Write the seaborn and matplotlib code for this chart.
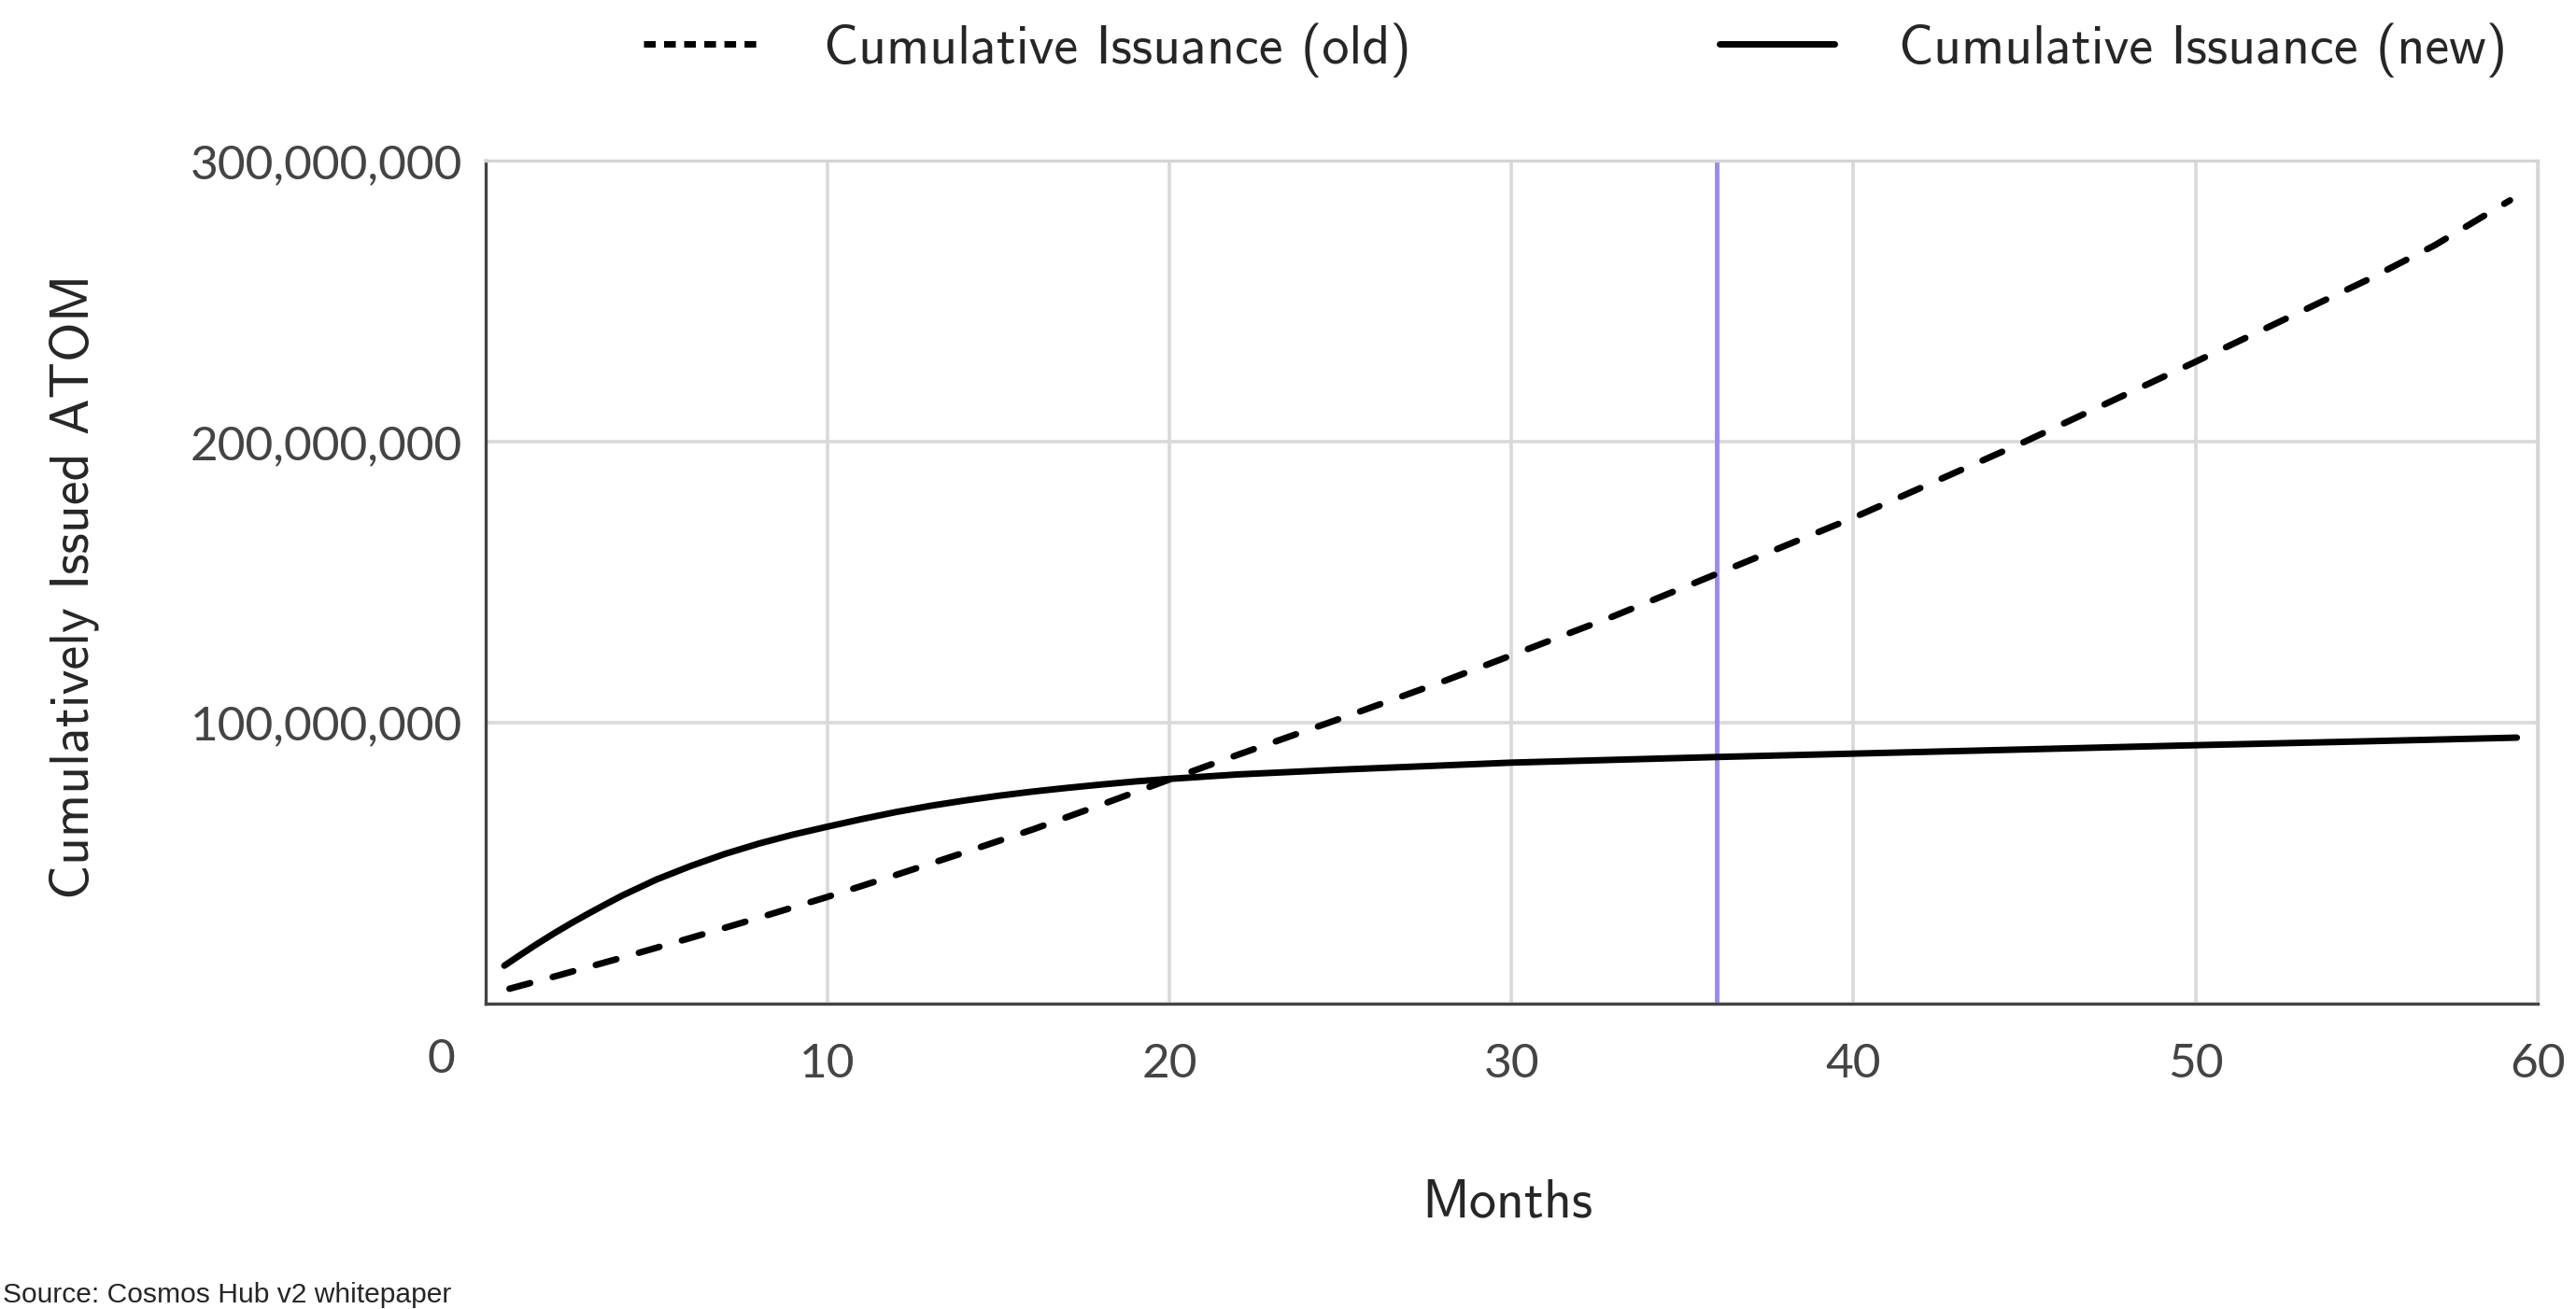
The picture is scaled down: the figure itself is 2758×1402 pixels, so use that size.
import matplotlib
matplotlib.use("Agg")
import matplotlib.pyplot as plt
from matplotlib.lines import Line2D
from matplotlib.ticker import FuncFormatter
import seaborn as sns

# months and cumulative issuance (ATOM)
months_old = [0.7, 2, 4, 6, 8, 10, 12, 14, 16, 18, 20, 22, 25, 28, 30, 33, 36,
              40, 45, 50, 55, 57, 59.2]
issued_old = [5.3e6, 9.6e6, 16.4e6, 23.4e6, 30.6e6, 38e6, 45.8e6, 53.8e6, 62e6,
              70.8e6, 79.8e6, 88.6e6, 101.5e6, 114.7e6, 124e6, 138e6, 153e6,
              173e6, 200e6, 228.5e6, 257.5e6, 270e6, 286e6]

months_new = [0.55, 1, 1.5, 2, 2.5, 3, 3.5, 4, 5, 6, 7, 8, 9, 10, 11, 12, 13, 14,
              15, 16, 17, 18, 19, 20, 22, 25, 30, 36, 40, 45, 50, 55, 59.4]
issued_new = [13.5e6, 17.2e6, 21.2e6, 25e6, 28.6e6, 32e6, 35.3e6, 38.5e6, 44.2e6,
              49e6, 53.3e6, 57e6, 60.2e6, 63e6, 65.7e6, 68.2e6, 70.4e6, 72.3e6,
              74e6, 75.5e6, 76.8e6, 78e6, 79.1e6, 80e6, 81.6e6, 83.3e6,
              85.8e6, 87.8e6, 89e6, 90.5e6, 92e6, 93.4e6, 94.7e6]

x_ticks = [0, 10, 20, 30, 40, 50, 60]
y_ticks = [0, 100e6, 200e6, 300e6]
marker_month = 36

sns.set_style("whitegrid")
plt.rcParams["font.family"] = ["cmss10", "DejaVu Sans"]
plt.rcParams["axes.unicode_minus"] = False
plt.rcParams["axes.formatter.use_mathtext"] = False

fig = plt.figure(figsize=(13.79, 7.01), dpi=200)
ax = fig.add_axes([0.1885, 0.2333, 0.7965, 0.6437])

sns.lineplot(x=months_old, y=issued_old, ax=ax, color="black", lw=2.5,
             linestyle=(0, (3.3, 3.6)), dash_capstyle="round")
sns.lineplot(x=months_new, y=issued_new, ax=ax, color="black", lw=2.5,
             solid_capstyle="round")
ax.axvline(marker_month, color="#a08aec", lw=1.8, zorder=1)

ax.set_xlim(0, 60)
ax.set_ylim(0, 300e6)
ax.set_xticks(x_ticks)
ax.set_xticklabels([""] + [str(t) for t in x_ticks[1:]])
ax.set_yticks(y_ticks)
ax.yaxis.set_major_formatter(FuncFormatter(lambda v, p: "" if v == 0 else f"{v:,.0f}"))
ax.tick_params(length=0, labelsize=18.5, labelcolor="#444444")
ax.tick_params(axis="x", pad=15)
ax.tick_params(axis="y", pad=9)
for lab in ax.get_xticklabels() + ax.get_yticklabels():
    lab.set_family(["Lato", "DejaVu Sans"])
ax.annotate("0", xy=(0, 0), xycoords="data", xytext=(-17, -21.6),
            textcoords="offset points", ha="center", va="center",
            fontsize=18.5, color="#444444", family=["Lato", "DejaVu Sans"])

ax.grid(True, color="#d9d9d9", lw=1.3)
for side in ["left", "bottom"]:
    ax.spines[side].set_color("#444444")
    ax.spines[side].set_linewidth(1.2)
for side in ["top", "right"]:
    ax.spines[side].set_color("#d4d4d4")
    ax.spines[side].set_linewidth(1.2)
ax.set_xlabel("")
ax.set_ylabel("")

fig.text(0.585, 0.0806, "Months", ha="center", va="center", fontsize=20.9)
fig.text(0.0287, 0.552, "Cumulatively Issued ATOM", ha="center", va="center",
         rotation=90, fontsize=20.9)

handles = [Line2D([], [], color="black", lw=2.5, linestyle=(0, (1.8, 1.3))),
           Line2D([], [], color="black", lw=2.5)]
fig.legend(handles, ["Cumulative Issuance (old)", "Cumulative Issuance (new)"],
           loc="center", bbox_to_anchor=(0.6117, 0.962), ncol=2, frameon=False,
           fontsize=20.9, handlelength=2.12, handletextpad=1.19,
           columnspacing=5.7)

fig.text(0.001, 0.0107, "Source: Cosmos Hub v2 whitepaper", ha="left", va="center",
         fontsize=10.8, family=["Liberation Sans", "DejaVu Sans"])

fig.savefig("out.png", dpi=200)
